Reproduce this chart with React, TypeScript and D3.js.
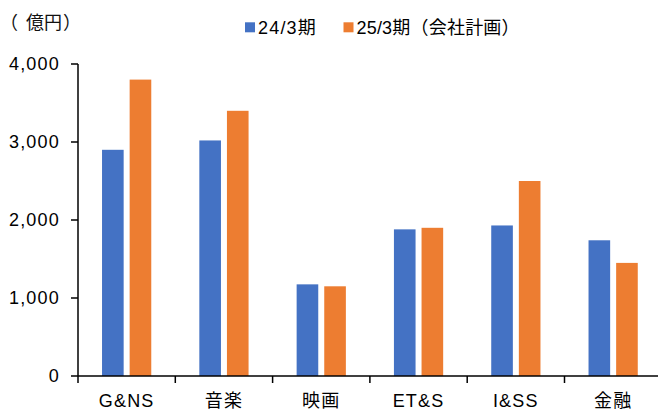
import React from "react";
import * as d3 from "d3";

const categories = ["G&NS", "音楽", "映画", "ET&S", "I&SS", "金融"];
const seriesNames = ["24/3期", "25/3期（会社計画）"];
const fy24 = [2900, 3020, 1175, 1880, 1930, 1740];
const fy25 = [3800, 3400, 1150, 1900, 2500, 1450];
const yTicks = [0, 1000, 2000, 3000, 4000];
const colors = ["#4472C4", "#ED7D31"];
const unitParts = ["（", "億円", "）"];

const W = 658;
const H = 413;
const FONT = "'Liberation Sans', Arial, 'Noto Sans CJK JP', sans-serif";

export default function App() {
  const left = 78;
  const top = 64;
  const bottom = 376;
  const x0 = d3.scaleBand<string>().domain(categories).range([left, left + 6 * 97.3]).padding(0);
  const bw = x0.bandwidth();
  const x1 = d3
    .scaleBand<string>()
    .domain(seriesNames)
    .range([bw * 0.247, bw * 0.753])
    .paddingInner(0.217);
  const y = d3.scaleLinear().domain([0, 4000]).range([bottom, top]);
  const series = [fy24, fy25];
  const fmt = d3.format(",");

  return (
    <svg width={W} height={H} style={{ position: "absolute", left: 0, top: 0, background: "#fff" }} fontFamily={FONT}>
      <rect x={0} y={0} width={W} height={H} fill="#fff" />
      {/* unit */}
      <text y={28.5} fontSize={18} fill="#111" fontFamily="'Noto Sans CJK JP', sans-serif">
        <tspan x={0}>{unitParts[0]}</tspan>
        <tspan x={26}>{unitParts[1]}</tspan>
        <tspan x={63}>{unitParts[2]}</tspan>
      </text>
      {/* legend */}
      {seriesNames.map((s, i) => {
        const lx = i === 0 ? 245 : 343.5;
        return (
          <g key={s}>
            <rect x={lx} y={22.3} width={10} height={10} fill={colors[i]} />
            <text x={lx + 13} y={33.5} fontSize={18} fill="#000" letterSpacing={i === 0 ? 1.2 : 0.2}>
              {s}
            </text>
          </g>
        );
      })}
      {/* bars */}
      {categories.map((c, ci) => (
        <g key={c} transform={`translate(${x0(c)},0)`}>
          {series.map((vals, si) => (
            <rect
              key={si}
              x={x1(seriesNames[si])}
              y={y(vals[ci])}
              width={x1.bandwidth()}
              height={bottom - y(vals[ci])}
              fill={colors[si]}
            />
          ))}
        </g>
      ))}
      {/* y axis */}
      <line x1={left} x2={left} y1={top} y2={bottom + 7} stroke="#000" strokeWidth={1.5} />
      {yTicks.map((t) => (
        <g key={t}>
          <line x1={left - 7} x2={left} y1={y(t)} y2={y(t)} stroke="#000" strokeWidth={1.5} />
          <text
            x={60}
            y={y(t)}
            dy="0.36em"
            textAnchor="end"
            fontSize={18}
            letterSpacing={1.2}
            fill="#000"
          >
            {fmt(t)}
          </text>
        </g>
      ))}
      {/* x axis */}
      <line x1={left} x2={W} y1={bottom} y2={bottom} stroke="#000" strokeWidth={1.5} />
      {categories.map((c, i) =>
        i === 0 ? null : (
          <line key={"t" + c} x1={x0(c)!} x2={x0(c)!} y1={bottom} y2={bottom + 7} stroke="#000" strokeWidth={1.5} />
        )
      )}
      {categories.map((c) => (
        <text
          key={"l" + c}
          x={x0(c)! + bw / 2}
          y={407}
          textAnchor="middle"
          fontSize={18}
          letterSpacing={1.2}
          fill="#000"
        >
          {c}
        </text>
      ))}
    </svg>
  );
}
